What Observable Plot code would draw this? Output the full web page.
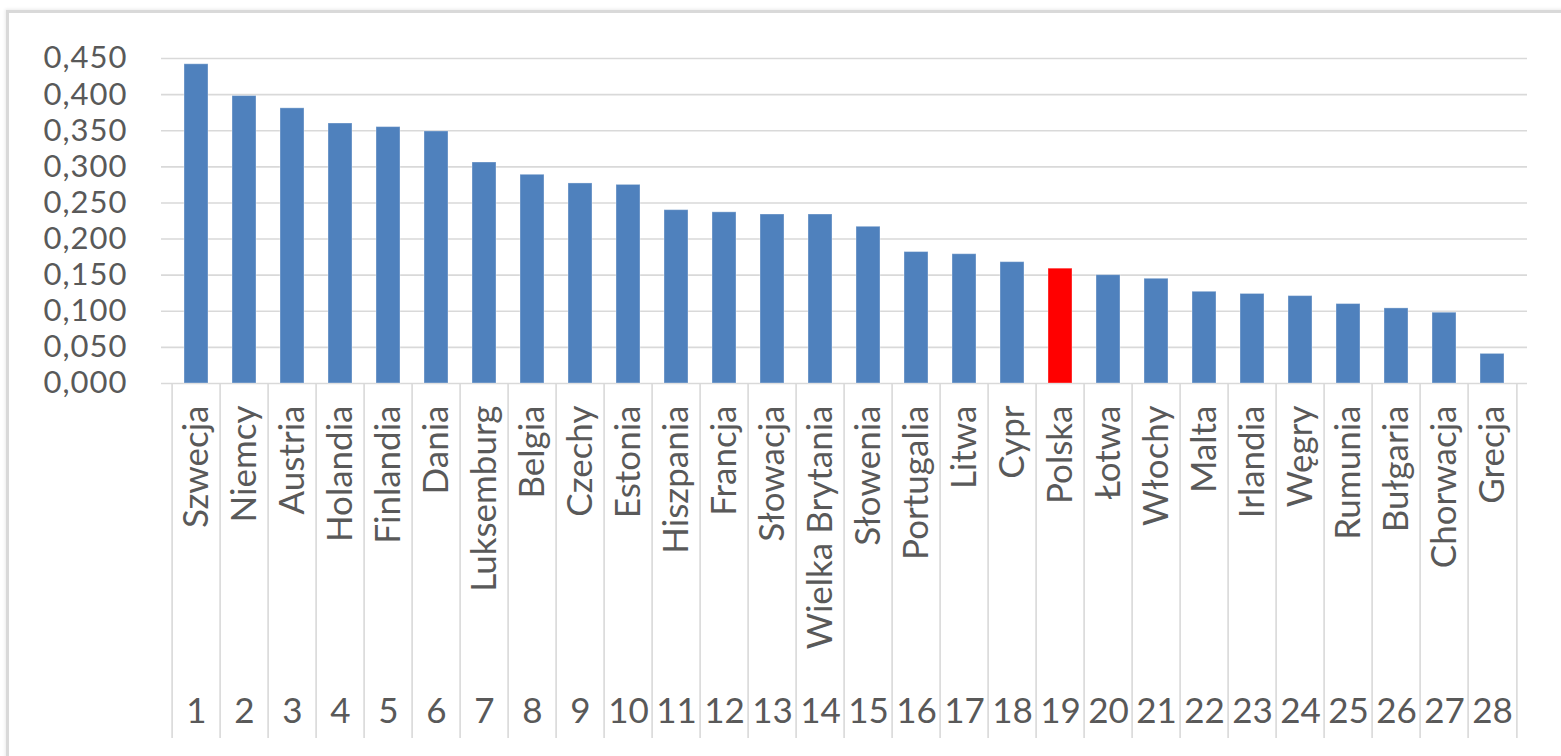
<!DOCTYPE html>
<html>
<head>
<meta charset="utf-8">
<script src="https://cdn.jsdelivr.net/npm/d3@7"></script>
<script src="https://cdn.jsdelivr.net/npm/@observablehq/plot@0.6"></script>
<style>
  html, body { margin: 0; padding: 0; background: #fff; }
  #wrap { position: relative; width: 1561px; height: 756px; overflow: hidden; background: #fff; }
  #border { position: absolute; left: 6px; top: 10px; width: 1700px; height: 900px;
            border-top: 3px solid #d9d9d9; border-left: 3px solid #d9d9d9;
            box-shadow: -1px -1px 3px rgba(0,0,0,0.08); pointer-events: none; }
  #chart { position: absolute; left: 0; top: 0; }
  .yax text { font-size: 31px; letter-spacing: 1px; }
</style>
</head>
<body>
<div id="wrap"><div id="chart"></div><div id="border"></div></div>
<script>
const countries = ["Szwecja","Niemcy","Austria","Holandia","Finlandia","Dania","Luksemburg","Belgia","Czechy","Estonia","Hiszpania","Francja","Słowacja","Wielka Brytania","Słowenia","Portugalia","Litwa","Cypr","Polska","Łotwa","Włochy","Malta","Irlandia","Węgry","Rumunia","Bułgaria","Chorwacja","Grecja"];
const values = [0.442,0.398,0.381,0.360,0.355,0.349,0.306,0.289,0.277,0.275,0.240,0.237,0.234,0.234,0.217,0.182,0.179,0.168,0.159,0.150,0.145,0.127,0.124,0.121,0.110,0.104,0.098,0.041];
const ranks = countries.map((c, i) => i + 1);
const yTicks = [0, 0.05, 0.10, 0.15, 0.20, 0.25, 0.30, 0.35, 0.40, 0.45];
const highlight = "Polska";
const barColor = "#4F81BD";
const highlightColor = "#FF0000";

const data = countries.map((c, i) => ({country: c, value: values[i], rank: ranks[i]}));

const W = 1561, H = 756, mL = 161, mR = 34, mT = 58, mB = 373;
const step = (W - mL - mR) / countries.length;
const rankOf = new Map(data.map(d => [d.country, d.rank]));
const gridColor = "#d9d9d9";

const chart = Plot.plot({
  width: W,
  height: H,
  marginLeft: mL,
  marginRight: mR,
  marginTop: mT,
  marginBottom: mB,
  style: {fontFamily: "Lato, 'Open Sans', sans-serif", fontSize: "35px", color: "#595959", background: "transparent"},
  x: {type: "band", domain: countries, paddingInner: 0.49, paddingOuter: 0.245, label: null},
  y: {domain: [0, 0.45], label: null},
  color: {type: "identity"},
  marks: [
    Plot.gridY(yTicks, {stroke: gridColor, strokeOpacity: 1, strokeWidth: 1.6}),
    Plot.barY(data, {x: "country", y: "value",
      fill: d => d.country === highlight ? highlightColor : barColor,
      stroke: "#ffffff", strokeOpacity: 0.35, strokeWidth: 1}),
    Plot.axisY(yTicks, {tickSize: 0, tickPadding: 34, label: null, className: "yax",
      tickFormat: d => d.toFixed(3).replace(".", ",")}),
    // category labels
    Plot.axisX(countries, {tickSize: 0, tickPadding: 22, tickRotate: -90, label: null}),
    // rank labels
    Plot.axisX(countries, {tickSize: 0, tickPadding: 315, label: null, tickFormat: c => String(rankOf.get(c))}),
    // dividers between categories
    Plot.axisX(countries, {tickSize: 355, tickPadding: 0, label: null, tickFormat: () => "",
      dx: -step / 2, stroke: gridColor, strokeOpacity: 1, strokeWidth: 1.6}),
    Plot.axisX([countries[countries.length - 1]], {tickSize: 355, tickPadding: 0, label: null, tickFormat: () => "",
      dx: step / 2, stroke: gridColor, strokeOpacity: 1, strokeWidth: 1.6})
  ]
});
document.getElementById("chart").appendChild(chart);
</script>
</body>
</html>
